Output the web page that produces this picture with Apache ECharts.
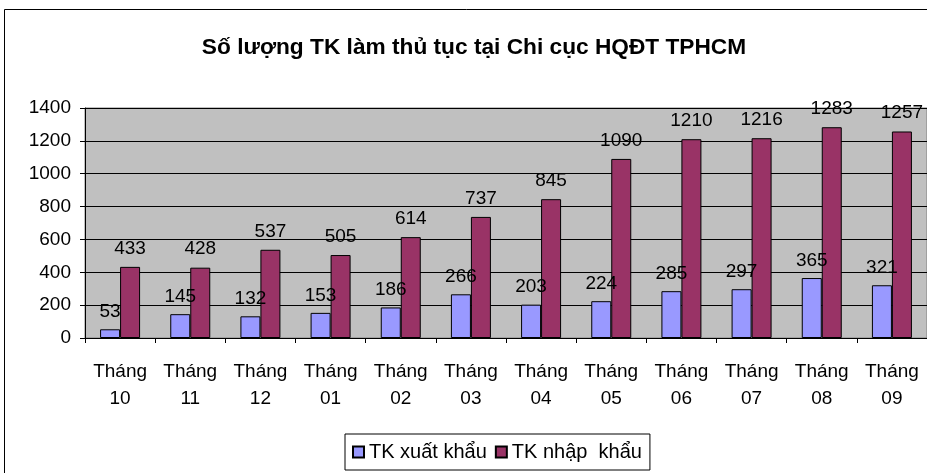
<!DOCTYPE html>
<html>
<head>
<meta charset="utf-8">
<script src="https://cdn.jsdelivr.net/npm/echarts@6/dist/echarts.min.js"></script>
<style>
  html, body { margin: 0; padding: 0; background: #fff; }
  #chart { width: 927px; height: 473px; }
</style>
</head>
<body>
<div id="chart"></div>
<script>
const months = ["Tháng\n10", "Tháng\n11", "Tháng\n12", "Tháng\n01", "Tháng\n02", "Tháng\n03",
  "Tháng\n04", "Tháng\n05", "Tháng\n06", "Tháng\n07", "Tháng\n08", "Tháng\n09"];
const xuatKhau = [53, 145, 132, 153, 186, 266, 203, 224, 285, 297, 365, 321];
const nhapKhau = [433, 428, 537, 505, 614, 737, 845, 1090, 1210, 1216, 1283, 1257];

const font = "Liberation Sans, Arial, sans-serif";
const chart = echarts.init(document.getElementById("chart"));

chart.setOption({
  backgroundColor: "#fff",
  animation: false,
  title: {
    text: "Số lượng TK làm thủ tục tại Chi cục HQĐT TPHCM",
    left: 469,
    textAlign: "center",
    top: 31,
    textStyle: { fontFamily: font, fontWeight: "bold", fontSize: 22.7, color: "#000" }
  },
  graphic: [{
    type: "rect",
    shape: { x: 4.5, y: 9.5, width: 940, height: 480 },
    style: { fill: null, stroke: "#000", lineWidth: 1 },
    silent: true,
    z: 0
  }],
  legend: {
    left: 345,
    top: 434,
    itemWidth: 11,
    itemHeight: 11,
    itemGap: 8,
    padding: [8, 8, 8, 7],
    borderColor: "#000",
    borderWidth: 1,
    textStyle: { fontFamily: font, fontSize: 20, color: "#000" },
    data: [
      { name: "TK xuất khẩu", icon: "rect" },
      { name: "TK nhập  khẩu", icon: "rect" }
    ]
  },
  grid: {
    left: 85,
    top: 108,
    width: 846,
    height: 230,
    show: true,
    backgroundColor: "#c0c0c0",
    borderColor: "#808080",
    borderWidth: 1
  },
  xAxis: {
    type: "category",
    data: months,
    axisLine: { lineStyle: { color: "#000", width: 1 } },
    axisTick: { show: true, length: 5, lineStyle: { color: "#000" } },
    axisLabel: {
      fontFamily: font, fontSize: 19, color: "#000",
      lineHeight: 27, margin: 20, interval: 0
    }
  },
  yAxis: {
    type: "value",
    min: 0,
    max: 1400,
    interval: 200,
    axisLine: { show: true, lineStyle: { color: "#000", width: 1 } },
    axisTick: { show: true, length: 5, lineStyle: { color: "#000" } },
    axisLabel: { fontFamily: font, fontSize: 19, color: "#000", margin: 14, formatter: v => String(v) },
    splitLine: { lineStyle: { color: "#000", width: 1 } }
  },
  series: [
    {
      name: "TK xuất khẩu",
      type: "bar",
      data: xuatKhau,
      barWidth: 20,
      barGap: "0%",
      itemStyle: { color: "#9999ff", borderColor: "#000", borderWidth: 1 },
      label: { show: true, position: "top", distance: 8, fontFamily: font, fontSize: 19, color: "#000" }
    },
    {
      name: "TK nhập  khẩu",
      type: "bar",
      data: nhapKhau,
      barWidth: 20,
      barGap: "0%",
      itemStyle: { color: "#993366", borderColor: "#000", borderWidth: 1 },
      label: { show: true, position: "top", distance: 9, fontFamily: font, fontSize: 19, color: "#000" }
    }
  ]
});
</script>
</body>
</html>
